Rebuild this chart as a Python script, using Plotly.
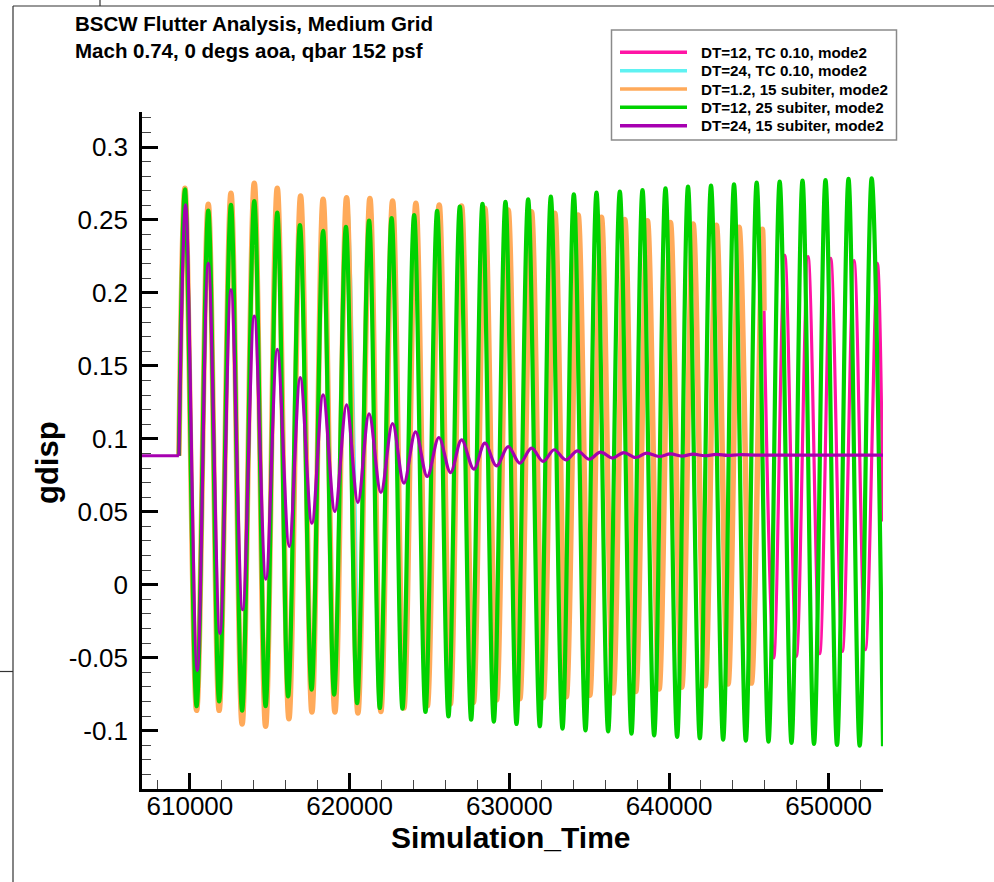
import plotly.graph_objects as go

# ---------------- data ----------------
# DT=24, 15 subiter: steady value held before the structural release
purple_base_t = [607000, 609310]
purple_base_y = [0.0884, 0.0884]

# DT=24, 15 subiter (strongly damped response) - alternating extrema
purple_t = [609310, 609730, 610460, 611150, 611880, 612570, 613300, 614030, 614760,
            615470, 616220, 616910, 617640, 618340, 619080, 619810, 620520, 621220,
            621960, 622690, 623400, 624130, 624860, 625590, 626320, 627010, 627780,
            628470, 629200, 629930, 630660, 631390, 632120, 632810, 633540, 634270,
            635000, 635710, 636460, 637170, 637920, 638590, 639380, 640090, 640800,
            641510, 642240, 642960, 643680, 644400, 645680, 653400]
purple_y = [0.0884, 0.2603, -0.0587, 0.2203, -0.0333, 0.2021, -0.0171, 0.1842, 0.0039,
            0.1614, 0.0263, 0.1420, 0.0422, 0.1301, 0.0502, 0.1233, 0.0564, 0.1171,
            0.0632, 0.1105, 0.0696, 0.1048, 0.0742, 0.1009, 0.0769, 0.0993, 0.0792,
            0.0970, 0.0815, 0.0947, 0.0833, 0.0936, 0.0845, 0.0925, 0.0856, 0.0918,
            0.0860, 0.0909, 0.0868, 0.0906, 0.0872, 0.0902, 0.0879, 0.0897, 0.0882,
            0.0895, 0.0884, 0.0893, 0.0886, 0.0891, 0.0888, 0.0888]

# DT=12, 25 subiter (slowly growing response)
green_t = [609310,
           609690, 610420, 611150, 611830, 612570, 613270, 614030, 614740, 615470, 616150,
           616890, 617620, 618340, 619030, 619770, 620470, 621220, 621890, 622630, 623310,
           624040, 624750, 625480, 626190, 626900, 627610, 628320, 629030, 629760, 630450,
           631180, 631910, 632600, 633330, 634040, 634770, 635460, 636190, 636920, 637650,
           638340, 639070, 639780, 640510, 641190, 641930, 642630, 643390, 644070, 644810,
           645490, 646230, 646930, 647670, 648360, 649080, 649800, 650520, 651240, 651940,
           652690, 653400]
green_y = [0.0884,
           0.2710, -0.0833, 0.2564, -0.0799, 0.2603, -0.0863, 0.2630, -0.0833, 0.2550, -0.0765,
           0.2464, -0.0719, 0.2425, -0.0753, 0.2452, -0.0811, 0.2495, -0.0845, 0.2512, -0.0849,
           0.2534, -0.0872, 0.2562, -0.0902, 0.2591, -0.0925, 0.2610, -0.0938, 0.2625, -0.0954,
           0.2642, -0.0970, 0.2660, -0.0986, 0.2676, -0.0998, 0.2687, -0.1005, 0.2694, -0.1020,
           0.2705, -0.1032, 0.2717, -0.1043, 0.2728, -0.1052, 0.2735, -0.1062, 0.2744, -0.1068,
           0.2756, -0.1075, 0.2763, -0.1084, 0.2769, -0.1091, 0.2774, -0.1098, 0.2781, -0.1103,
           0.2785, -0.1107]

# DT=1.2, 15 subiter (slowly decaying response)
orange_t = [609310,
            609690, 610420, 611150, 611830, 612570, 613270, 614030, 614740, 615470, 616200,
            616930, 617640, 618340, 619080, 619810, 620520, 621270, 621960, 622690, 623400,
            624150, 624870, 625610, 626310, 627010, 627750, 628470, 629200, 629930, 630660,
            631390, 632120, 632850, 633570, 634310, 635040, 635770, 636500, 637230, 637920,
            638650, 639380, 640090, 640800, 641510, 642260, 642970, 643700, 644390, 645160,
            645850, 645950]
orange_y = [0.0884,
            0.2717, -0.0861, 0.2607, -0.0861, 0.2683, -0.0954, 0.2751, -0.0970, 0.2717, -0.0918,
            0.2664, -0.0872, 0.2642, -0.0872, 0.2653, -0.0879, 0.2648, -0.0868, 0.2630, -0.0845,
            0.2614, -0.0830, 0.2603, -0.0818, 0.2596, -0.0808, 0.2580, -0.0790, 0.2568, -0.0782,
            0.2557, -0.0775, 0.2546, -0.0768, 0.2534, -0.0758, 0.2518, -0.0742, 0.2504, -0.0731,
            0.2495, -0.0715, 0.2483, -0.0703, 0.2473, -0.0692, 0.2464, -0.0680, 0.2450, -0.0674,
            0.2436, 0.1880]

# DT=24, TC 0.10 (coincides with the DT=1.2 run over the early cycles)
cyan_t = [609310, 609690, 610420, 611150, 611830, 612570, 613270, 614030, 614740,
          615470, 616200, 616930, 617640, 618340, 619080, 619810, 620520]
cyan_y = [0.0884, 0.2717, -0.0861, 0.2607, -0.0861, 0.2683, -0.0954, 0.2751, -0.0970,
          0.2717, -0.0918, 0.2664, -0.0872, 0.2642, -0.0872, 0.2653, -0.0879]

# DT=12, TC 0.10 (restart late in the run)
pink_t = [645950, 646560, 647250, 647980, 648710, 649440, 650130, 650860, 651590,
          652300, 653050, 653400]
pink_y = [0.1880, -0.0502, 0.2260, -0.0491, 0.2249, -0.0473, 0.2237, -0.0457, 0.2221,
          -0.0445, 0.2203, 0.0434]

series_names = ["DT=12, TC 0.10, mode2", "DT=24, TC 0.10, mode2",
                "DT=1.2, 15 subiter, mode2", "DT=12, 25 subiter, mode2",
                "DT=24, 15 subiter, mode2"]

x_tick_vals = [610000, 620000, 630000, 640000, 650000]
x_tick_text = ["610000", "620000", "630000", "640000", "650000"]
y_tick_vals = [-0.1, -0.05, 0, 0.05, 0.1, 0.15, 0.2, 0.25, 0.3]
y_tick_text = ["-0.1", "-0.05", "0", "0.05", "0.1", "0.15", "0.2", "0.25", "0.3"]

title_lines = ["BSCW Flutter Analysis, Medium Grid", "Mach 0.74, 0 degs aoa, qbar 152 psf"]
x_title = "Simulation_Time"
y_title = "gdisp"

# ---------------- styling ----------------
W, H = 994, 882
ML, MR, MT, MB = 142, 111, 112, 93
PW, PH = W - ML - MR, H - MT - MB
FONT = "Liberation Sans, Arial, Helvetica, sans-serif"

colors = {"pink": "#ff14a5", "cyan": "#5ff2f2", "orange": "#ffaa5a",
          "green": "#00d200", "purple": "#a600b0"}


def px(xp):
    return (xp - ML) / PW


def py(yp):
    return (H - MB - yp) / PH


fig = go.Figure()

# drawing order follows the map order (pink lowest, purple on top)
fig.add_trace(go.Scatter(x=pink_t, y=pink_y, mode="lines", name=series_names[0],
                         line=dict(color=colors["pink"], width=3.2, shape="spline")))
fig.add_trace(go.Scatter(x=cyan_t, y=cyan_y, mode="lines", name=series_names[1],
                         line=dict(color=colors["cyan"], width=4, shape="spline")))
fig.add_trace(go.Scatter(x=orange_t, y=orange_y, mode="lines", name=series_names[2],
                         line=dict(color=colors["orange"], width=5.5, shape="spline")))
fig.add_trace(go.Scatter(x=green_t, y=green_y, mode="lines", name=series_names[3],
                         line=dict(color=colors["green"], width=4.2, shape="spline")))
fig.add_trace(go.Scatter(x=purple_base_t, y=purple_base_y, mode="lines", showlegend=False,
                         line=dict(color=colors["purple"], width=3.2)))
fig.add_trace(go.Scatter(x=purple_t, y=purple_y, mode="lines", name=series_names[4],
                         line=dict(color=colors["purple"], width=3.2, shape="spline")))

axis_common = dict(showgrid=False, zeroline=False, showline=True, linecolor="black",
                   linewidth=2.5, ticks="inside", ticklen=16, tickwidth=2.5,
                   tickcolor="black", tickfont=dict(family=FONT, size=26, color="black"),
                   mirror=False)

fig.update_xaxes(range=[607000, 653400], tickmode="array", tickvals=x_tick_vals,
                 ticktext=x_tick_text, ticklabelstandoff=-8,
                 minor=dict(tickmode="linear", tick0=0, dtick=2000, ticks="inside",
                            ticklen=9, tickwidth=1.2, tickcolor="#444"),
                 **axis_common)
fig.update_yaxes(range=[-0.14, 0.324], tickmode="array", tickvals=y_tick_vals,
                 ticktext=y_tick_text, ticklabelstandoff=6,
                 minor=dict(tickmode="linear", tick0=0, dtick=0.01, ticks="inside",
                            ticklen=9, tickwidth=1.2, tickcolor="#444"),
                 **axis_common)

shapes = []
# window border lines
border = dict(type="line", xref="paper", yref="paper", line=dict(color="#333", width=1.2))
shapes.append(dict(border, x0=px(13), x1=px(W), y0=py(6), y1=py(6)))
shapes.append(dict(border, x0=px(13), x1=px(13), y0=py(6), y1=py(H)))
shapes.append(dict(border, x0=px(100), x1=px(100), y0=py(0), y1=py(6)))
shapes.append(dict(border, x0=px(0), x1=px(13), y0=py(671.5), y1=py(671.5)))

# legend box
shapes.append(dict(type="rect", xref="paper", yref="paper", layer="above",
                   x0=px(611.5), x1=px(896.5), y0=py(30), y1=py(140),
                   line=dict(color="#8a8a8a", width=1.5), fillcolor="white"))
legend_colors = [colors["pink"], colors["cyan"], colors["orange"], colors["green"],
                 colors["purple"]]
row_y = [52.3, 70.7, 89.0, 107.3, 125.7]
annotations = []
for name, col, ry in zip(series_names, legend_colors, row_y):
    shapes.append(dict(type="line", xref="paper", yref="paper", layer="above",
                       x0=px(620), x1=px(687), y0=py(ry), y1=py(ry),
                       line=dict(color=col, width=3.5)))
    annotations.append(dict(xref="paper", yref="paper", x=px(699), y=py(ry),
                            xanchor="left", yanchor="middle", showarrow=False,
                            text="<b>%s</b>" % name,
                            font=dict(family=FONT, size=15.2, color="black")))

# two-line title block
annotations.append(dict(xref="paper", yref="paper", x=px(73), y=py(37.0),
                        xanchor="left", yanchor="middle", align="left", showarrow=False,
                        text="<br>".join("<b>%s</b>" % t for t in title_lines),
                        font=dict(family=FONT, size=20.5, color="black")))

# axis titles
annotations.append(dict(xref="paper", yref="paper", x=px(511), y=py(837),
                        xanchor="center", yanchor="middle", showarrow=False,
                        text="<b>%s</b>" % x_title,
                        font=dict(family=FONT, size=30, color="black")))
annotations.append(dict(xref="paper", yref="paper", x=px(47), y=py(463),
                        xanchor="center", yanchor="middle", showarrow=False,
                        textangle=-90, text="<b>%s</b>" % y_title,
                        font=dict(family=FONT, size=31, color="black")))

fig.update_layout(width=W, height=H, margin=dict(l=ML, r=MR, t=MT, b=MB),
                  paper_bgcolor="white", plot_bgcolor="white", showlegend=False,
                  shapes=shapes, annotations=annotations,
                  font=dict(family=FONT, color="black"))

fig.write_html("out.html")
